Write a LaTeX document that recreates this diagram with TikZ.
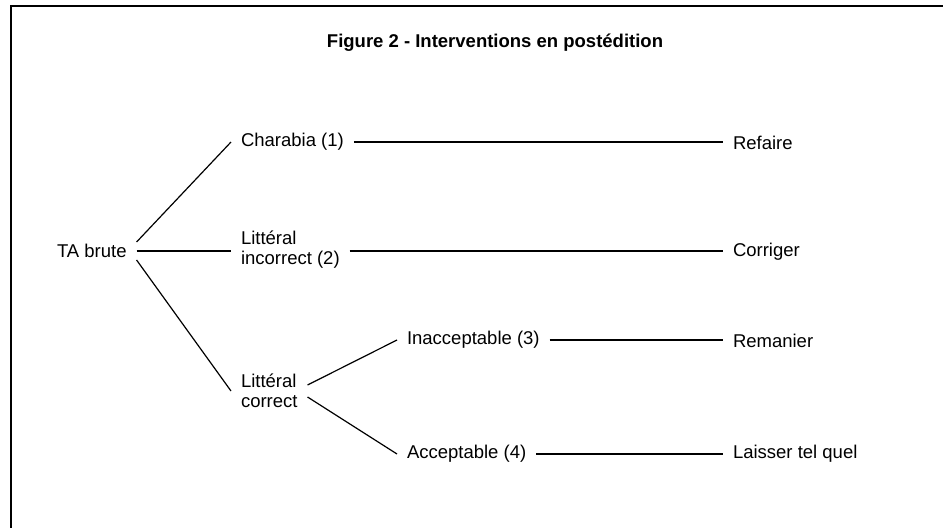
\documentclass[tikz,border=0pt]{standalone}
\usepackage{fontspec}
\setmainfont{Liberation Sans}

\begin{document}
\begin{tikzpicture}[x=1pt,y=-1pt,
	lbl/.style={inner sep=0pt,outer xsep=10pt,anchor=west,align=left,font=\fontsize{18.5}{20}\selectfont},
	link/.style={line width=1.2pt}]

	\useasboundingbox (0,0) rectangle (943,528);

	%Frame
	\draw [line width=1.8pt] (943,6) -- (11,6) -- (11,528);

	%Title
	\node (title) at (495,43) {\fontsize{18.5}{22}\selectfont\bfseries Figure 2 - Interventions en postédition};

	%Root and first level
	\node [lbl] (ta) at (47,251) {TA brute};
	\node [lbl] (charabia) at (231,142) {Charabia (1)};
	\node [lbl] (litinc) at (231,250) {Littéral\\incorrect (2)};
	\node [lbl] (litcor) at (231,391) {Littéral\\correct};

	%Second level
	\node [lbl] (inacc) at (397,340) {Inacceptable (3)};
	\node [lbl] (acc) at (397,454) {Acceptable (4)};

	%Interventions
	\node [lbl] (refaire) at (723,143) {Refaire};
	\node [lbl] (corriger) at (723,252) {Corriger};
	\node [lbl] (remanier) at (723,341) {Remanier};
	\node [lbl] (laisser) at (723,454) {Laisser tel quel};

	\draw [link] ([yshift=9pt]ta.east) -- (charabia.west);
	\draw [link] (ta.east) -- (ta.east -| litinc.west);
	\draw [link] ([yshift=-9pt]ta.east) -- (litcor.west);

	\draw [link] ([yshift=6pt]litcor.east) -- (inacc.west);
	\draw [link] ([yshift=-6pt]litcor.east) -- (acc.west);

	\draw [link] (charabia.east) -- (charabia.east -| refaire.west);
	\draw [link] ([yshift=-1pt]litinc.east) -- ([yshift=-1pt]litinc.east -| corriger.west);
	\draw [link] (inacc.east) -- (inacc.east -| remanier.west);
	\draw [link] (acc.east) -- (acc.east -| laisser.west);

\end{tikzpicture}
\end{document}
